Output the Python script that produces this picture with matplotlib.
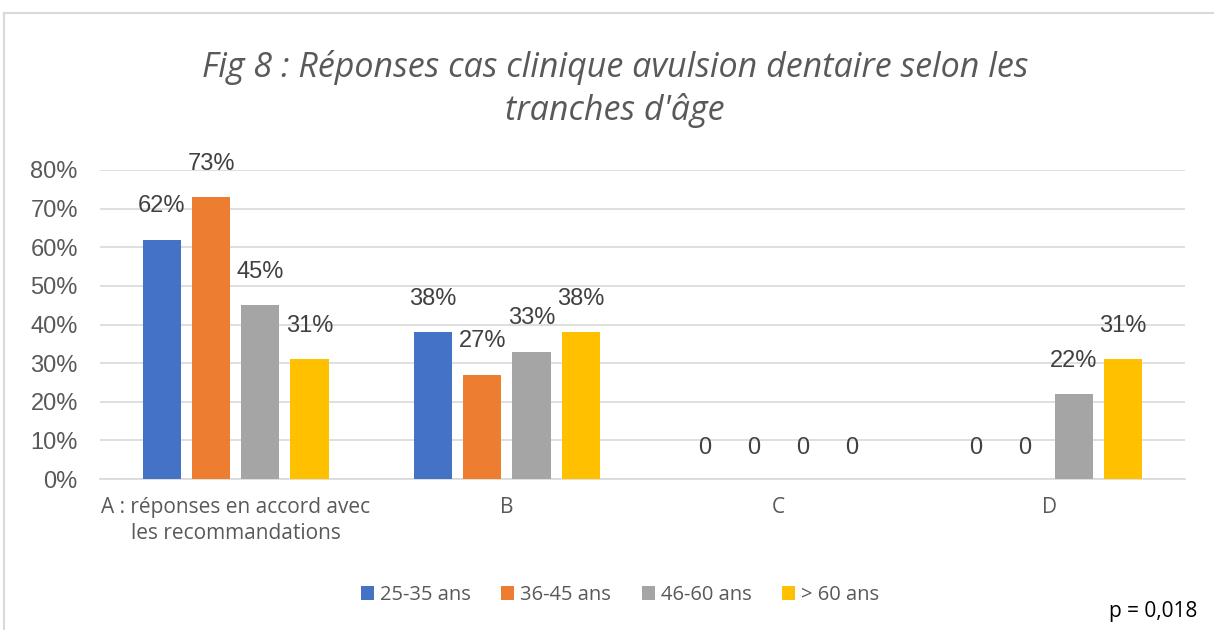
import matplotlib
matplotlib.use("Agg")
import matplotlib.pyplot as plt
from matplotlib.lines import Line2D
import numpy as np

categories = ["A : réponses en accord avec\nles recommandations", "B", "C", "D"]
series_names = ["25-35 ans", "36-45 ans", "46-60 ans", "> 60 ans"]
values = [
    [62, 38, 0, 0],
    [73, 27, 0, 0],
    [45, 33, 0, 22],
    [31, 38, 0, 31],
]
labels = [
    ["62%", "38%", "0", "0"],
    ["73%", "27%", "0", "0"],
    ["45%", "33%", "0", "22%"],
    ["31%", "38%", "0", "31%"],
]
colors = ["#4472C4", "#ED7D31", "#A5A5A5", "#FFC000"]
yticks = [0, 10, 20, 30, 40, 50, 60, 70, 80]

W, H = 1214, 630
fig = plt.figure(figsize=(W / 100, H / 100), dpi=100)
ax = fig.add_axes([100 / W, 1 - 479 / H, (1185 - 100) / W, (479 - 170) / H])

x = np.arange(len(categories))
bw = 0.141
step = 0.1815
txt = "#595959"
for i, (vals, labs, c, name) in enumerate(zip(values, labels, colors, series_names)):
    pos = x + (i - 1.5) * step
    ax.bar(pos, vals, width=bw, color=c, label=name, zorder=3)
    for p, v, l in zip(pos, vals, labs):
        ax.annotate(l, (p, v), xytext=(0, 24 if v > 0 else 22), textcoords="offset points",
                    ha="center", va="center", fontsize=17, color="#404040",
                    family="Liberation Sans")

ax.set_xlim(-0.5, len(categories) - 0.5)
ax.set_ylim(0, 80)
ax.set_yticks(yticks)
ax.set_yticklabels([f"{t}%" for t in yticks], fontsize=17, color=txt, family="Liberation Sans")
ax.set_xticks(x)
ax.set_xticklabels(categories, fontsize=15, color=txt, family="Open Sans", linespacing=1.3)
ax.tick_params(axis="both", length=0)
ax.tick_params(axis="y", pad=16)
ax.tick_params(axis="x", pad=13)
ax.grid(axis="y", color="#D9D9D9", linewidth=1.2, zorder=0)
for s in ["top", "right", "left"]:
    ax.spines[s].set_visible(False)
ax.spines["bottom"].set_color("#D9D9D9")
ax.spines["bottom"].set_linewidth(1.2)

fig.text(615 / W, 1 - 89 / H, "Fig 8 : Réponses cas clinique avulsion dentaire selon les\ntranches d'âge",
         ha="center", va="center", fontsize=24.5, style="italic", color=txt,
         family="Open Sans", linespacing=1.3)

leg = fig.legend(loc="center", bbox_to_anchor=(620 / W, 1 - 595 / H), ncol=4, frameon=False,
                 prop={"family": "Open Sans", "size": 14.5}, handlelength=0.65, handleheight=0.65,
                 handletextpad=0.3, columnspacing=1.5)
for t in leg.get_texts():
    t.set_color(txt)

fig.text(1153 / W, 1 - 611 / H, "p = 0,018", ha="center", va="center", fontsize=15,
         family="Open Sans", color="black")

fig.add_artist(Line2D([4 / W, 1], [1 - 13 / H, 1 - 13 / H], color="#D9D9D9", lw=1.5))
fig.add_artist(Line2D([4 / W, 4 / W], [0, 1 - 13 / H], color="#D9D9D9", lw=1.5))

fig.savefig("out.png", dpi=100)
